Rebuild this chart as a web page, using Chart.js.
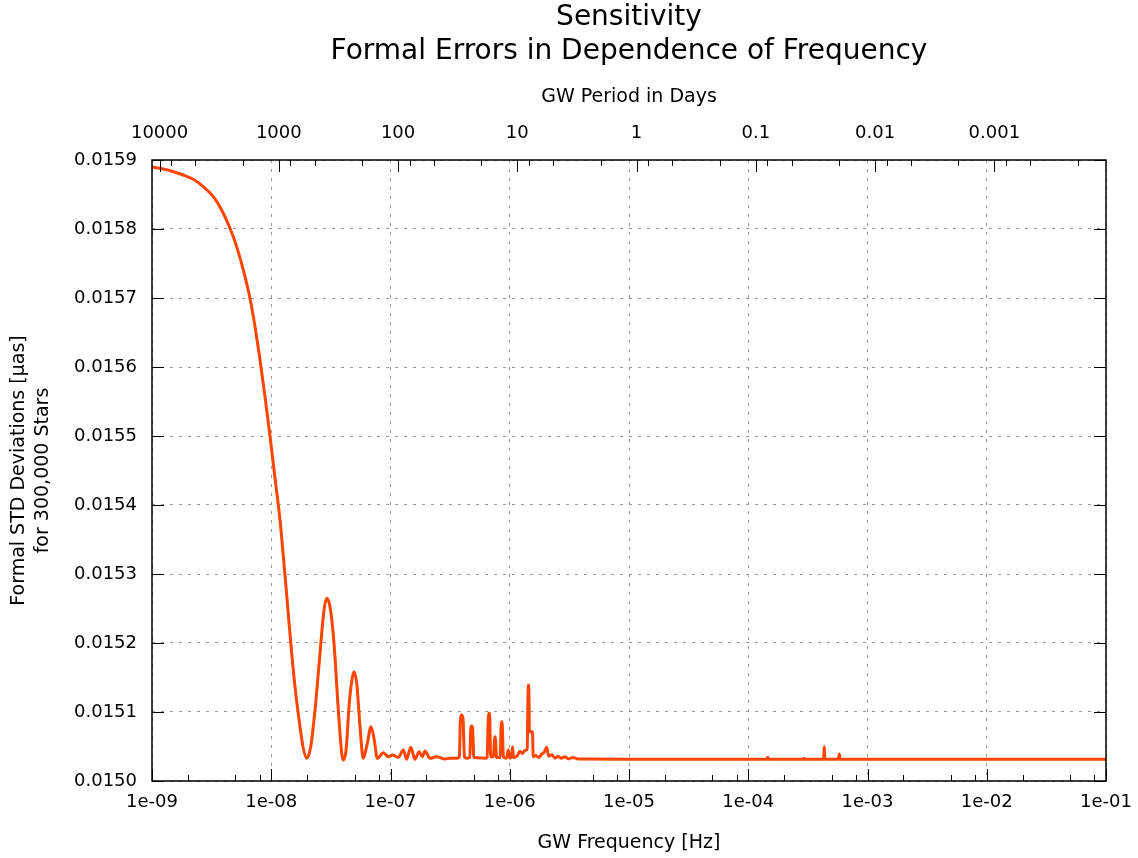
<!DOCTYPE html>
<html><head><meta charset="utf-8">
<script src="https://cdn.jsdelivr.net/npm/chart.js@4.4.1/dist/chart.umd.min.js"></script>
<style>html,body{margin:0;padding:0;background:#fff;} #wrap{width:1138px;height:858px;}</style>
</head><body><div id="wrap"><canvas id="c" width="1138" height="858"></canvas></div>
<script>
// GW frequency [Hz]
const frequencies = [
  1.00e-9, 1.42e-9, 1.83e-9, 2.22e-9, 2.69e-9, 3.27e-9, 3.84e-9, 4.51e-9, 5.13e-9, 5.83e-9,
  6.63e-9, 7.31e-9, 8.05e-9, 8.86e-9, 9.76e-9, 1.075e-8, 1.184e-8, 1.262e-8, 1.348e-8, 1.436e-8,
  1.582e-8, 1.742e-8, 1.857e-8, 1.983e-8, 2.142e-8, 2.328e-8, 2.564e-8, 2.769e-8, 2.917e-8, 3.109e-8,
  3.36e-8, 3.65e-8, 3.90e-8, 4.02e-8, 4.24e-8, 4.51e-8, 4.75e-8, 4.94e-8, 5.21e-8, 5.55e-8,
  5.91e-8, 6.39e-8, 6.86e-8, 7.31e-8, 7.75e-8, 8.70e-8, 9.58e-8, 1.043e-7, 1.163e-7, 1.281e-7,
  1.367e-7, 1.477e-7, 1.605e-7, 1.734e-7, 1.848e-7, 1.947e-7, 2.144e-7, 2.44e-7, 2.86e-7, 3.15e-7,
  3.59e-7, 3.78e-7, 3.86e-7, 3.95e-7, 4.06e-7, 4.17e-7, 4.45e-7, 4.62e-7, 4.72e-7, 4.80e-7,
  4.88e-7, 5.00e-7, 5.74e-7, 6.32e-7, 6.45e-7, 6.60e-7, 6.70e-7, 6.80e-7, 6.92e-7, 7.30e-7,
  7.45e-7, 7.52e-7, 7.60e-7, 7.75e-7, 8.30e-7, 8.47e-7, 8.56e-7, 8.66e-7, 8.85e-7, 9.40e-7,
  9.72e-7, 1.00e-6, 1.035e-6, 1.055e-6, 1.075e-6, 1.15e-6, 1.22e-6, 1.28e-6, 1.33e-6, 1.38e-6,
  1.40e-6, 1.425e-6, 1.436e-6, 1.45e-6, 1.46e-6, 1.55e-6, 1.575e-6, 1.65e-6, 1.75e-6, 1.85e-6,
  1.95e-6, 2.04e-6, 2.12e-6, 2.25e-6, 2.40e-6, 2.55e-6, 2.70e-6, 2.90e-6, 3.10e-6, 3.40e-6,
  3.70e-6, 4.10e-6, 1.0e-5, 1.0e-4, 1.43e-4, 1.456e-4, 1.48e-4, 2.90e-4, 2.93e-4, 2.96e-4,
  4.28e-4, 4.34e-4, 4.40e-4, 5.70e-4, 5.80e-4, 5.90e-4, 1.0e-1
];
// Formal STD deviations [µas]
const stdValues = [
  0.015890, 0.0158845, 0.0158783, 0.015872, 0.0158613, 0.0158468, 0.0158275, 0.015801, 0.0157744, 0.0157406,
  0.0156996, 0.0156584, 0.0156101, 0.015557, 0.0155000, 0.0154391, 0.0153783, 0.0153261, 0.0152696, 0.015213,
  0.0151367, 0.0150787, 0.0150474, 0.0150329, 0.0150497, 0.0151029, 0.0151851, 0.0152478, 0.0152648, 0.0152526,
  0.0151996, 0.0151029, 0.0150401, 0.0150304, 0.0150449, 0.0151126, 0.0151464, 0.0151584, 0.0151416, 0.0150787,
  0.0150329, 0.0150546, 0.0150787, 0.0150594, 0.0150329, 0.015041, 0.0150352, 0.0150377, 0.0150343, 0.0150449,
  0.0150315, 0.0150488, 0.0150315, 0.0150425, 0.0150352, 0.0150435, 0.0150329, 0.0150352, 0.015032, 0.0150328,
  0.015033, 0.015035, 0.015090, 0.0150957, 0.015090, 0.015034, 0.015033, 0.015034, 0.015077, 0.0150797,
  0.015077, 0.015034, 0.0150335, 0.015033, 0.015034, 0.015090, 0.0150986, 0.015090, 0.015035, 0.015035,
  0.015060, 0.0150642, 0.015060, 0.015034, 0.015034, 0.015080, 0.0150859, 0.015080, 0.015035, 0.015033,
  0.0150449, 0.015033, 0.015036, 0.0150497, 0.015034, 0.015036, 0.015043, 0.015040, 0.015044, 0.015045,
  0.015046, 0.015130, 0.0151391, 0.015120, 0.0150714, 0.0150714, 0.015035, 0.015037, 0.015034, 0.015039,
  0.015042, 0.0150488, 0.015036, 0.015038, 0.015033, 0.015036, 0.015033, 0.015035, 0.015032, 0.015034,
  0.015032, 0.0150318, 0.0150315, 0.0150315, 0.0150315, 0.0150345, 0.0150315, 0.0150315, 0.015033, 0.0150315,
  0.0150315, 0.015050, 0.0150315, 0.0150315, 0.015039, 0.0150315, 0.0150315
];
const freqTicks = [1e-9, 1e-8, 1e-7, 1e-6, 1e-5, 1e-4, 1e-3, 1e-2, 1e-1];
const freqTickLabels = ['1e-09','1e-08','1e-07','1e-06','1e-05','1e-04','1e-03','1e-02','1e-01'];
const minorMultipliers = [2, 5, 8];
const periodTicks = [10000, 1000, 100, 10, 1, 0.1, 0.01, 0.001];
const periodTickLabels = ['10000','1000','100','10','1','0.1','0.01','0.001'];
const valueTicks = [0.0150,0.0151,0.0152,0.0153,0.0154,0.0155,0.0156,0.0157,0.0158,0.0159];
const valueTickLabels = ['0.0150','0.0151','0.0152','0.0153','0.0154','0.0155','0.0156','0.0157','0.0158','0.0159'];
const SECONDS_PER_DAY = 86400;

const fMin = freqTicks[0], fMax = freqTicks[freqTicks.length - 1];
const periodMin = 1 / (fMax * SECONDS_PER_DAY);
const periodMax = 1 / (fMin * SECONDS_PER_DAY);

Chart.defaults.font.family = "'DejaVu Sans', sans-serif";
Chart.defaults.color = '#000';

const framePlugin = {
  id: 'frame',
  afterDatasetsDraw(chart) {
    const {ctx, chartArea: a, scales} = chart;
    ctx.save();
    ctx.strokeStyle = '#000';
    ctx.lineWidth = 1;
    const seg = (x1, y1, x2, y2) => { ctx.beginPath(); ctx.moveTo(x1, y1); ctx.lineTo(x2, y2); ctx.stroke(); };
    const xs = scales.x, xt = scales.x2, ys = scales.y;
    freqTicks.forEach(v => {
      const p = Math.round(xs.getPixelForValue(v)) + 0.5;
      seg(p, a.bottom, p, a.bottom - 12);
      minorMultipliers.forEach(m => {
        const val = v * m;
        if (val < fMax) { const q = Math.round(xs.getPixelForValue(val)) + 0.5; seg(q, a.bottom, q, a.bottom - 6); }
      });
    });
    periodTicks.forEach(v => {
      const p = Math.round(xt.getPixelForValue(v)) + 0.5;
      seg(p, a.top, p, a.top + 12);
    });
    periodTicks.map(v => v / 10).forEach(b => {
      minorMultipliers.forEach(m => {
        const val = b * m;
        if (val > periodMin && val < periodMax) { const q = Math.round(xt.getPixelForValue(val)) + 0.5; seg(q, a.top, q, a.top + 6); }
      });
    });
    valueTicks.forEach(v => {
      const p = Math.round(ys.getPixelForValue(v)) + 0.5;
      seg(a.left, p, a.left + 12, p);
      seg(a.right, p, a.right - 12, p);
    });
    ctx.lineWidth = 1.5;
    ctx.strokeRect(a.left, a.top, a.right - a.left, a.bottom - a.top);
    ctx.restore();
  }
};

new Chart(document.getElementById('c'), {
  type: 'line',
  data: {
    datasets: [{
      data: frequencies.map((f, i) => ({x: f, y: stdValues[i]})),
      borderColor: '#ff4500',
      borderWidth: 3,
      pointRadius: 0,
      fill: false,
      cubicInterpolationMode: 'monotone',
      xAxisID: 'x',
      yAxisID: 'y'
    }]
  },
  options: {
    responsive: false,
    animation: false,
    devicePixelRatio: 1,
    layout: {padding: {left: 0, right: 32, top: 0, bottom: 0}},
    plugins: {
      legend: {display: false},
      tooltip: {enabled: false},
      title: {
        display: true, fullSize: false,
        text: ['Sensitivity', 'Formal Errors in Dependence of Frequency'],
        font: {size: 28, weight: 'normal', lineHeight: 1.2},
        padding: {top: 1, bottom: 0}, color: '#000'
      }
    },
    scales: {
      x: {
        type: 'logarithmic', position: 'bottom', min: fMin, max: fMax,
        afterBuildTicks: s => { s.ticks = freqTicks.map(v => ({value: v})); },
        afterFit: s => { s.height = 77; s.paddingLeft = 0; s.paddingRight = 0; },
        ticks: {autoSkip: false, maxRotation: 0, minRotation: 0, padding: 11, font: {size: 18},
          callback: (v, i) => freqTickLabels[i]},
        grid: {color: '#9a9a9a', lineWidth: 1, drawTicks: false},
        border: {display: false, dash: [3, 6]},
        title: {display: true, text: 'GW Frequency [Hz]', font: {size: 19, lineHeight: 1.2}, padding: {top: 0, bottom: 3.6}}
      },
      x2: {
        type: 'logarithmic', position: 'top', reverse: true, min: periodMin, max: periodMax,
        afterBuildTicks: s => { s.ticks = periodTicks.map(v => ({value: v})); },
        afterFit: s => { s.height = 91.8; s.paddingLeft = 0; s.paddingRight = 0; },
        ticks: {autoSkip: false, maxRotation: 0, minRotation: 0, padding: 16, font: {size: 18},
          callback: (v, i) => periodTickLabels[i]},
        grid: {display: false, drawTicks: false},
        border: {display: false},
        title: {display: true, text: 'GW Period in Days', font: {size: 19, lineHeight: 1.2}, padding: {top: 17.4, bottom: 0}}
      },
      y: {
        type: 'linear', position: 'left', min: valueTicks[0], max: valueTicks[valueTicks.length - 1],
        afterBuildTicks: s => { s.ticks = valueTicks.map(v => ({value: v})); },
        afterFit: s => { s.width = 152; s.paddingTop = 0; s.paddingBottom = 0; },
        ticks: {padding: 15, font: {size: 18}, callback: (v, i) => valueTickLabels[i]},
        grid: {color: '#9a9a9a', lineWidth: 1, drawTicks: false},
        border: {display: false, dash: [3, 6]},
        title: {display: true, text: ['Formal STD Deviations [µas]', 'for 300,000 Stars'],
          font: {size: 19, lineHeight: 1.25}, padding: {top: 7, bottom: 0}}
      }
    }
  },
  plugins: [framePlugin]
});
</script>
</body></html>
